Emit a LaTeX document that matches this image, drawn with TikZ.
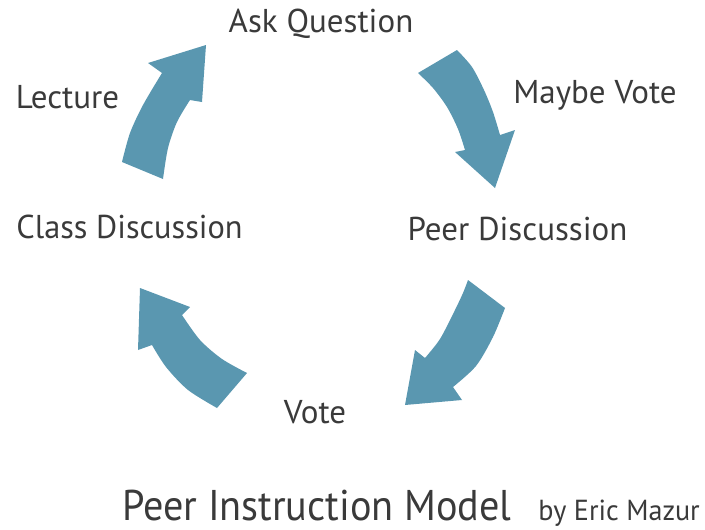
\documentclass[tikz,border=0pt]{standalone}
\usepackage{fontspec}
\setmainfont{PT Sans}
\definecolor{arrowblue}{RGB}{90,151,176}
\definecolor{txtgray}{RGB}{58,58,58}
\begin{document}
\begin{tikzpicture}[x=1pt,y=-1pt,
  lbl/.style={anchor=base,inner sep=0pt,text=txtgray,font=\fontsize{33}{38}\selectfont},
  cyc/.style={fill=arrowblue,draw=none}]
\useasboundingbox (0,0) rectangle (705,530);
% labels
\node[lbl] (ask) at (321,32) {Ask Question};
\node[lbl] (lecture) at (67.5,108) {Lecture};
\node[lbl] (maybe) at (595,103) {Maybe Vote};
\node[lbl,xscale=0.98] (class) at (129.5,238) {Class Discussion};
\node[lbl] (peer) at (517.5,240) {Peer Discussion};
\node[lbl] (vote) at (315,423) {Vote};
\node[anchor=base west,inner sep=0pt,text=txtgray,font=\fontsize{43}{48}\selectfont,xscale=0.935] (title) at (122,520) {Peer Instruction Model};
\node[anchor=base east,inner sep=0pt,text=txtgray,font=\fontsize{29}{34}\selectfont,xscale=0.97] (by) at (700,520) {by Eric Mazur};
% arrow 1: Lecture -> Ask Question
\fill[cyc] (122,162) -- plot[smooth] coordinates {(163,179) (168,148) (177,122) (190,100)}
  -- (202,102) -- (206,45) -- (148,63) -- plot[smooth] coordinates {(162,73) (143,105) (130,133) (122,162)} -- cycle;
% arrow 2: Ask Question -> Peer Discussion
\fill[cyc] (418,73) -- plot[smooth] coordinates {(457,50) (472,67) (484,90) (493,112) (500,135)}
  -- (515,130) -- (495,188) -- (455,152) -- plot[smooth] coordinates {(465,150) (458,129) (447,107) (433,88) (418,73)} -- cycle;
% arrow 3: Peer Discussion -> Vote
\fill[cyc] (468,280) -- plot[smooth] coordinates {(505,308) (493,337) (476,366) (453,387)}
  -- (462,400) -- (405,405) -- (415,350) -- plot[smooth] coordinates {(425,358) (440,339) (454,312) (463,293) (468,280)} -- cycle;
% arrow 4: Vote -> Class Discussion
\fill[cyc] (247,373) -- plot[smooth] coordinates {(217,408) (188,390) (166,367) (152,345)}
  -- (138,350) -- (140,288) -- (190,307) -- plot[smooth] coordinates {(182,315) (200,340) (222,359) (247,373)} -- cycle;
\end{tikzpicture}
\end{document}
